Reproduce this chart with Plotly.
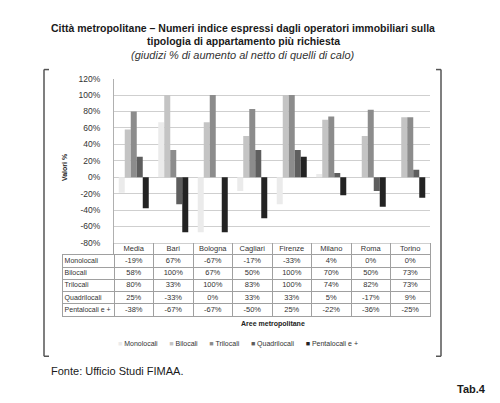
import plotly.graph_objects as go

citta = ['Media', 'Bari', 'Bologna', 'Cagliari', 'Firenze', 'Milano', 'Roma', 'Torino']
tipologie = ['Monolocali', 'Bilocali', 'Trilocali', 'Quadrilocali', 'Pentalocali e +']
monolocali = [-19, 67, -67, -17, -33, 4, 0, 0]
bilocali = [58, 100, 67, 50, 100, 70, 50, 73]
trilocali = [80, 33, 100, 83, 100, 74, 82, 73]
quadrilocali = [25, -33, 0, 33, 33, 5, -17, 9]
pentalocali = [-38, -67, -67, -50, 25, -22, -36, -25]
y_ticks = [-80, -60, -40, -20, 0, 20, 40, 60, 80, 100, 120]
y_ticklabels = ['-80%', '-60%', '-40%', '-20%', '0%', '20%', '40%', '60%', '80%', '100%', '120%']

serie = [monolocali, bilocali, trilocali, quadrilocali, pentalocali]
colori = ['#ebebeb', '#c4c4c4', '#8c8c8c', '#5e5e5e', '#232323']

W, H = 500, 403
FONT = 'Liberation Sans'
GRID = '#cfcfcf'
TAB = '#a0a0a0'


def px_x(x):
    return x / W


def px_y(y):
    return 1 - y / H


fig = go.Figure()

for nome, valori, col in zip(tipologie, serie, colori):
    fig.add_trace(go.Bar(
        x=citta,
        y=valori,
        name=nome,
        marker=dict(color=col, line=dict(width=0)),
        showlegend=False
    ))

n = len(citta)
lab_w = 51 / 39.5  # label column width in column units

# header row of the table (city names)
fig.add_trace(go.Scatter(
    x=list(range(n)), y=[0.5] * n, text=citta, mode='text',
    textfont=dict(family=FONT, size=7.5, color='#333333'),
    xaxis='x3', yaxis='y3', hoverinfo='skip', showlegend=False
))

# body of the table
tx, ty, tt = [], [], []
for r, s in enumerate(serie):
    for c in range(n):
        tx.append(c)
        ty.append(r + 0.5)
        tt.append('%d%%' % s[c])

fig.add_trace(go.Scatter(
    x=tx, y=ty, text=tt, mode='text',
    textfont=dict(family=FONT, size=7.5, color='#333333'),
    xaxis='x2', yaxis='y2', hoverinfo='skip', showlegend=False
))
fig.add_trace(go.Scatter(
    x=[-0.5 - lab_w + 0.04] * len(tipologie),
    y=[r + 0.5 for r in range(len(tipologie))],
    text=tipologie, mode='text', textposition='middle right',
    textfont=dict(family=FONT, size=7, color='#333333'),
    xaxis='x2', yaxis='y2', hoverinfo='skip', showlegend=False
))

tab_axis = dict(showticklabels=False, ticks='', showgrid=True, gridcolor=TAB, gridwidth=1,
                zeroline=False, linecolor=TAB, fixedrange=True)

fig.update_layout(
    width=W,
    height=H,
    margin=dict(l=0, r=0, t=0, b=0),
    paper_bgcolor='white',
    plot_bgcolor='white',
    barmode='group',
    bargap=0.24,
    bargroupgap=0,
    showlegend=False,
    font=dict(family=FONT, size=7.5, color='#333333'),
    xaxis=dict(
        domain=[px_x(106), px_x(422)],
        showgrid=False,
        showline=True,
        linecolor=GRID,
        showticklabels=False,
        ticks=''
    ),
    yaxis=dict(
        domain=[px_y(235.7), px_y(67.3)],
        range=[-80, 120],
        tickvals=y_ticks,
        ticktext=y_ticklabels,
        showgrid=True,
        gridcolor=GRID,
        gridwidth=1,
        zeroline=True,
        zerolinecolor=GRID,
        zerolinewidth=1,
        showline=True,
        linecolor='#b0b0b0',
        linewidth=1,
        ticks='',
        ticklabelstandoff=11,
        tickfont=dict(family=FONT, size=8.5, color='#333333')
    ),
    xaxis2=dict(
        tab_axis,
        domain=[px_x(55), px_x(422)],
        range=[-0.5 - lab_w, n - 0.5],
        tickvals=[c - 0.5 for c in range(n)],
        showline=True, mirror=True,
        anchor='y2'
    ),
    yaxis2=dict(
        tab_axis,
        domain=[px_y(311), px_y(248)],
        range=[len(tipologie), 0],
        tickvals=list(range(1, len(tipologie))),
        showline=True, mirror=True,
        anchor='x2'
    ),
    xaxis3=dict(
        tab_axis,
        domain=[px_x(106), px_x(422)],
        range=[-0.5, n - 0.5],
        tickvals=[c + 0.5 for c in range(n - 1)],
        showline=False,
        anchor='y3'
    ),
    yaxis3=dict(
        tab_axis,
        domain=[px_y(248), px_y(235.7)],
        range=[1, 0],
        showgrid=False,
        showline=True, mirror=True,
        anchor='x3'
    )
)

# titles and notes
annots = [
    dict(text='<b>Città metropolitane – Numeri indice espressi dagli operatori immobiliari sulla</b>',
         x=px_x(235), y=px_y(15), size=10.5, color='#1a1a1a'),
    dict(text='<b>tipologia di appartamento più richiesta</b>',
         x=px_x(235), y=px_y(29), size=10.5, color='#1a1a1a'),
    dict(text='<i>(giudizi % di aumento al netto di quelli di calo)</i>',
         x=px_x(235), y=px_y(43), size=11, color='#333333'),
    dict(text='<b>Aree metropolitane</b>',
         x=px_x(265), y=px_y(319), size=7, color='#222222'),
]
for a in annots:
    fig.add_annotation(text=a['text'], x=a['x'], y=a['y'], xref='paper', yref='paper',
                       xanchor='center', yanchor='middle', showarrow=False,
                       font=dict(family=FONT, size=a['size'], color=a['color']))

# legend row
voci = ['<span style="color:%s">■</span> %s' % (c, t) for c, t in zip(colori, tipologie)]
fig.add_annotation(text='&nbsp;&nbsp;&nbsp;&nbsp;&nbsp;&nbsp;'.join(voci), x=px_x(230), y=px_y(339),
                   xref='paper', yref='paper', xanchor='center', yanchor='middle',
                   showarrow=False, font=dict(family=FONT, size=7, color='#333333'))

fig.add_annotation(text='<b>Valori %</b>', x=px_x(56), y=px_y(158), xref='paper', yref='paper',
                   textangle=-90, showarrow=False, xanchor='center', yanchor='middle',
                   font=dict(family=FONT, size=7, color='#222222'))
fig.add_annotation(text='Fonte: Ufficio Studi FIMAA.', x=px_x(41), y=px_y(367), xref='paper', yref='paper',
                   xanchor='left', yanchor='middle', showarrow=False,
                   font=dict(family=FONT, size=11, color='#1a1a1a'))
fig.add_annotation(text='<b>Tab.4</b>', x=px_x(480), y=px_y(386), xref='paper', yref='paper',
                   xanchor='right', yanchor='middle', showarrow=False,
                   font=dict(family=FONT, size=11, color='#1a1a1a'))

# bracket-like frame around the chart
linea = dict(color='#555555', width=1.5)
for xx in [36, 433]:
    fig.add_shape(type='line', xref='paper', yref='paper',
                  x0=px_x(xx), x1=px_x(xx), y0=px_y(58), y1=px_y(352), line=linea)
for x0, x1 in [(36, 41), (428, 433)]:
    for yy in [58, 352]:
        fig.add_shape(type='line', xref='paper', yref='paper',
                      x0=px_x(x0), x1=px_x(x1), y0=px_y(yy), y1=px_y(yy), line=linea)

fig.write_html('out.html')
